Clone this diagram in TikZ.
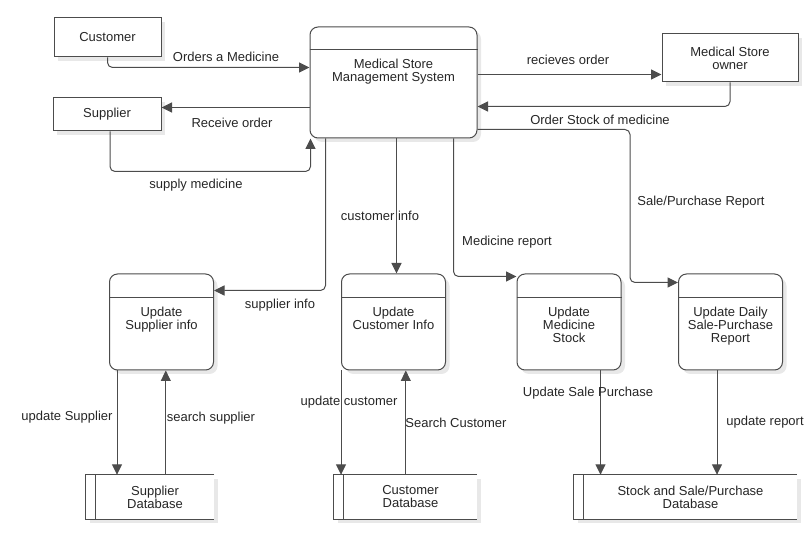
\documentclass[tikz,border=0pt]{standalone}
\usepackage{fontspec}
\setmainfont{Liberation Sans}
\usepackage{tikz}
\usetikzlibrary{arrows.meta,calc,shadows,backgrounds}

\tikzset{
  txt/.style={font=\fontsize{13}{13}\selectfont, text=black!85},
  edge/.style={draw=black!70, line width=1pt},
  entity/.style={edge, txt, rectangle, fill=white, align=center,
    drop shadow={shadow xshift=4pt, shadow yshift=-4pt, fill=black!9, opacity=1}},
  proc/.style={edge, rectangle, rounded corners=8pt, fill=white,
    drop shadow={shadow xshift=4pt, shadow yshift=-4pt, fill=black!9, opacity=1}},
  ptext/.style={txt, align=center, inner sep=0pt, anchor=north},
  dbase/.style={txt, rectangle, align=center, minimum height=44pt},
  lbl/.style={txt, inner sep=0pt, text height=9.3pt, text depth=0pt},
  flow/.style={edge, rounded corners=5pt, -{Triangle[length=10.5pt,width=10pt]}}
}

\begin{document}
\begin{tikzpicture}[x=1pt, y=-1pt]
  \useasboundingbox (0,0) rectangle (809,537);

  % external entities
  \node[entity, minimum width=107pt, minimum height=39pt] (cust) at (107.5,37.5) {Customer};
  \node[entity, minimum width=108pt, minimum height=33pt] (sup) at (107,114.5) {Supplier};
  \node[entity, minimum width=136pt, minimum height=48pt] (own) at (730,58) {Medical Store\\owner};

  % processes
  \node[proc, minimum width=167pt, minimum height=111pt] (sys) at (393.5,82.5) {};
  \node[proc, minimum width=104pt, minimum height=96pt] (supinfo) at (161.5,322) {};
  \node[proc, minimum width=104pt, minimum height=96pt] (custinfo) at (393.5,322) {};
  \node[proc, minimum width=104pt, minimum height=96pt] (med) at (569,322) {};
  \node[proc, minimum width=104pt, minimum height=96pt] (daily) at (730.5,322) {};
  \foreach \p/\h in {sys/23, supinfo/24, custinfo/24, med/24, daily/24}
    \draw[edge] ($(\p.north west)+(0,\h)$) -- ($(\p.north east)+(0,\h)$);

  \node[ptext] (sys-t) at ($(sys.north)+(0,32.5)$) {Medical Store\\Management System};
  \node[ptext] (supinfo-t) at ($(supinfo.north)+(0,33.5)$) {Update\\Supplier info};
  \node[ptext] (custinfo-t) at ($(custinfo.north)+(0,33.5)$) {Update\\Customer Info};
  \node[ptext] (med-t) at ($(med.north)+(0,33.5)$) {Update\\Medicine\\Stock};
  \node[ptext] (daily-t) at ($(daily.north)+(0,33.5)$) {Update Daily\\Sale-Purchase\\Report};

  % data stores
  \node[dbase, minimum width=118pt] (supdb) at (155,497) {Supplier\\Database};
  \node[dbase, minimum width=133pt] (custdb) at (410.5,497) {Customer\\Database};
  \node[dbase, minimum width=213pt] (stockdb) at (690.5,497) {Stock and Sale/Purchase\\Database};
  \begin{pgfonlayer}{background}
    \foreach \d in {supdb, custdb, stockdb} {
      \fill[black!9] ($(\d.north west)+(-6,4)$) rectangle ($(\d.south east)+(4,4)$);
      \fill[white] ($(\d.north west)+(-10,0)$) rectangle (\d.south east);
    }
  \end{pgfonlayer}
  \foreach \d in {supdb, custdb, stockdb}
    \draw[edge] (\d.north east) -- ($(\d.north west)+(-10,0)$) -- ($(\d.south west)+(-10,0)$) -- (\d.south east)
                (\d.north west) -- (\d.south west);

  % flows around the system
  \draw[flow] (cust.south) |- ($(sys.north west)+(0,41)$);
  \draw[flow] ($(sys.north west)+(0,81)$) coordinate (c1) -- (c1 -| sup.east);
  \draw[flow] ($(sup.south)+(3,0)$) |- ($(sys.south west)+(1,33)$) -- ($(sys.south west)+(1,0)$);
  \draw[flow] ($(sys.north east)+(0,48)$) coordinate (c2) -- (c2 -| own.west);
  \draw[flow] (own.south) |- ($(sys.north east)+(0,80)$);
  \draw[flow] ($(sys.north east)+(0,103)$) -| ($(daily.north west)+(-48,9)$) -- ($(daily.north west)+(0,9)$);
  \draw[flow] ($(sys.south west)+(16,0)$) |- ($(supinfo.north east)+(0,17)$);
  \draw[flow] ($(sys.south)+(3,0)$) -- ($(custinfo.north)+(3,0)$);
  \draw[flow] ($(sys.south west)+(144,0)$) |- ($(med.north west)+(0,3)$);

  % flows to the data stores
  \draw[flow] ($(supinfo.south west)+(8,0)$) coordinate (c3) -- (c3 |- supdb.north);
  \draw[flow] ($(supdb.north west)+(70,0)$) coordinate (c4) -- (c4 |- supinfo.south);
  \draw[flow] (custinfo.south west) -- (custinfo.south west |- custdb.north);
  \draw[flow] ($(custdb.north west)+(62,0)$) coordinate (c5) -- (c5 |- custinfo.south);
  \draw[flow] ($(med.south west)+(84,0)$) coordinate (c6) -- (c6 |- stockdb.north);
  \draw[flow] ($(daily.south west)+(39,0)$) coordinate (c7) -- (c7 |- stockdb.north);

  % labels
  \node[lbl] (l-orders) at (226,57) {Orders a Medicine};
  \node[lbl] (l-receive) at (232,123) {Receive order};
  \node[lbl] (l-supply) at (196,184) {supply medicine};
  \node[lbl] (l-recieves) at (568,60) {recieves order};
  \node[lbl] (l-stock) at (600,120) {Order Stock of medicine};
  \node[lbl] (l-report) at (701,201) {Sale/Purchase Report};
  \node[lbl] (l-custinfo) at (380,216) {customer info};
  \node[lbl] (l-medrep) at (507,241) {Medicine report};
  \node[lbl] (l-supinfo) at (280,304) {supplier info};
  \node[lbl] (l-updsup) at (67,416) {update Supplier};
  \node[lbl] (l-srchsup) at (211,417) {search supplier};
  \node[lbl] (l-updcust) at (349,401) {update customer};
  \node[lbl] (l-srchcust) at (456,423) {Search Customer};
  \node[lbl] (l-updsale) at (588,392) {Update Sale Purchase};
  \node[lbl] (l-updrep) at (765,421) {update report};
\end{tikzpicture}
\end{document}
